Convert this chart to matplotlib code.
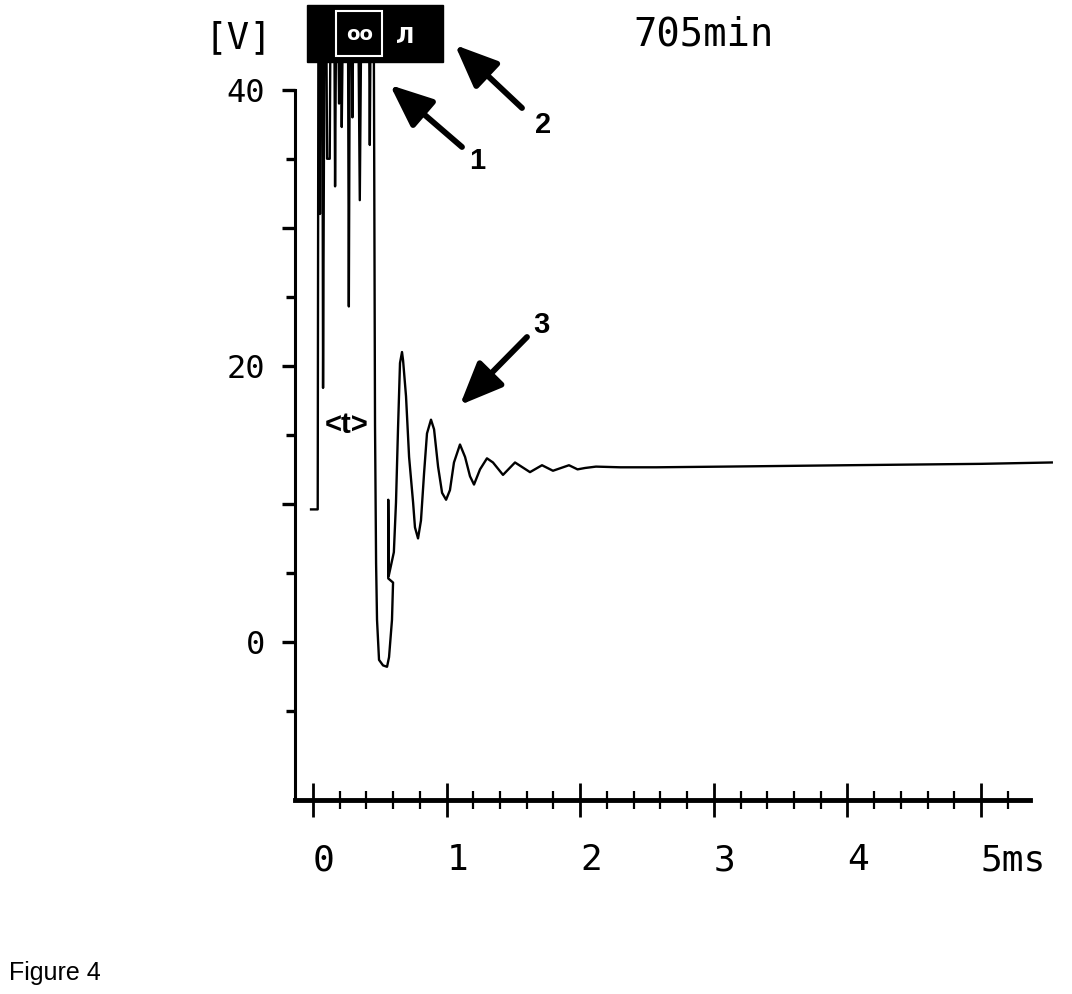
import matplotlib
matplotlib.use("Agg")
import matplotlib.pyplot as plt
from matplotlib.ticker import FixedLocator, MultipleLocator, NullFormatter
from matplotlib.patches import Rectangle

# ---------------- data ----------------
time_ms = [-0.015, 0.035, 0.040, 0.048, 0.052, 0.056, 0.070, 0.075, 0.085, 0.100,
           0.105, 0.125, 0.130, 0.160, 0.165, 0.172, 0.190, 0.195, 0.200, 0.210,
           0.215, 0.222, 0.262, 0.268, 0.275, 0.290, 0.295, 0.300, 0.340, 0.350,
           0.360, 0.420, 0.425, 0.430, 0.455, 0.464, 0.472, 0.479, 0.494, 0.524,
           0.554, 0.569, 0.591, 0.599, 0.563, 0.563, 0.567, 0.605, 0.621, 0.636,
           0.651, 0.666, 0.674, 0.696, 0.719, 0.749, 0.763, 0.786, 0.808, 0.831,
           0.853, 0.883, 0.906, 0.936, 0.966, 0.996, 1.025, 1.055, 1.100, 1.138,
           1.175, 1.205, 1.250, 1.302, 1.347, 1.422, 1.512, 1.624, 1.714, 1.796,
           1.916, 1.980, 2.036, 2.118, 2.300, 2.570, 3.080, 4.000, 4.500, 5.000,
           5.530]
voltage_v = [9.6, 9.6, 44.0, 44.0, 31.0, 44.0, 44.0, 18.4, 44.0, 44.0,
             35.0, 35.0, 44.0, 44.0, 33.0, 44.0, 44.0, 39.0, 44.0, 44.0,
             37.3, 44.0, 44.0, 24.3, 44.0, 44.0, 38.0, 44.0, 44.0, 32.0,
             44.0, 44.0, 36.0, 44.0, 44.0, 15.7, 5.7, 1.6, -1.3, -1.7,
             -1.8, -1.1, 1.6, 4.3, 4.6, 10.3, 4.8, 6.5, 10.1, 15.4,
             20.2, 21.0, 20.4, 17.8, 13.4, 10.1, 8.3, 7.5, 8.8, 12.2,
             15.1, 16.1, 15.4, 12.7, 10.8, 10.3, 11.0, 13.0, 14.3, 13.4,
             12.0, 11.4, 12.5, 13.3, 13.0, 12.1, 13.0, 12.3, 12.8, 12.4,
             12.8, 12.5, 12.6, 12.7, 12.65, 12.65, 12.7, 12.8, 12.85, 12.9,
             13.0]

x_major_ticks = [0, 1, 2, 3, 4, 5]
x_tick_labels = ["0", "1", "2", "3", "4", "5ms"]
y_major_ticks = [0, 10, 20, 30, 40]
y_tick_labels = ["0", "", "20", "", "40"]
y_minor_ticks = [-5, 5, 15, 25, 35]
y_unit = "[V]"
elapsed_label = "705min"
figure_caption = "Figure 4"
interval_label = "<t>"
arrow_numbers = ["1", "2", "3"]

# ---------------- layout ----------------
W, H = 1072, 994
fig = plt.figure(figsize=(W / 100, H / 100), dpi=100)
fig.patch.set_facecolor("white")

def fx(px):
    return px / W

def fy(py):
    return 1 - py / H

plot_font = ["DejaVu Sans Mono"]
ax_l, ax_r, ax_b, ax_t = 295, 1030, 800, 0
ax = fig.add_axes([fx(ax_l), fy(ax_b), (ax_r - ax_l) / W, (ax_b - ax_t) / H])
ax.set_xlim(-0.135, 5.367)
ax.set_ylim(-11.45, 46.5)
ax.patch.set_alpha(0)

for s in ("top", "right"):
    ax.spines[s].set_visible(False)
ax.spines["left"].set_bounds(-11.45, 40)
ax.spines["left"].set_linewidth(2.2)
ax.spines["bottom"].set_linewidth(3.5)

ax.plot(time_ms, voltage_v, color="black", lw=1.7, clip_on=False, zorder=3)

ax.xaxis.set_major_locator(FixedLocator(x_major_ticks))
ax.xaxis.set_minor_locator(MultipleLocator(0.2))
ax.set_xticklabels(x_tick_labels, family=plot_font, fontsize=26)
for lab in ax.get_xticklabels():
    lab.set_horizontalalignment("left")
ax.yaxis.set_major_locator(FixedLocator(y_major_ticks))
ax.yaxis.set_minor_locator(FixedLocator(y_minor_ticks))
ax.yaxis.set_minor_formatter(NullFormatter())
ax.set_yticklabels(y_tick_labels, family=plot_font, fontsize=23)

ax.tick_params(axis="x", which="major", direction="inout", length=24, width=2.0, pad=19)
ax.tick_params(axis="x", which="minor", direction="inout", length=13, width=1.6)
ax.tick_params(axis="y", which="major", direction="out", length=9.5, width=2.4, pad=12)
ax.tick_params(axis="y", which="minor", direction="out", length=6.5, width=2.4)

# texts
fig.text(fx(238), fy(38), y_unit, family=plot_font, fontsize=27, ha="center", va="center")
fig.text(fx(703), fy(35), elapsed_label, family=plot_font, fontsize=28, ha="center", va="center")
fig.text(fx(9), fy(973), figure_caption, family=["Liberation Sans"], fontsize=18,
         ha="left", va="center")
fig.text(fx(347), fy(425), interval_label, family=["Liberation Sans"], fontsize=21,
         fontweight="bold", ha="center", va="center", zorder=5)

# black header box with white symbols
fig.add_artist(Rectangle((fx(307), fy(62)), (443 - 307) / W, (62 - 5) / H,
                         transform=fig.transFigure, facecolor="black", edgecolor="black",
                         zorder=10))
fig.add_artist(Rectangle((fx(336), fy(56)), (382 - 336) / W, (56 - 11) / H,
                         transform=fig.transFigure, facecolor="none", edgecolor="white",
                         lw=1.5, zorder=11))
fig.text(fx(360), fy(34), "oo", color="white", family=["DejaVu Sans"], fontsize=14,
         fontweight="bold", ha="center", va="center", zorder=12)
fig.text(fx(405), fy(37), "Л", color="white", family=["DejaVu Sans"], fontsize=16,
         fontweight="bold", ha="center", va="center", zorder=12)

# arrows with numbers
arrow_specs = [((462, 147), (390, 85)), ((522, 108), (455, 45)), ((527, 337), (460, 405))]
number_pos = [(477, 161), (543, 125), (541, 325)]
for (tail, tip), num, npos in zip(arrow_specs, arrow_numbers, number_pos):
    ax.annotate("", xy=(tip[0], H - tip[1]), xycoords="figure pixels",
                xytext=(tail[0], H - tail[1]), textcoords="figure pixels",
                arrowprops=dict(arrowstyle="-|>,head_length=1.3,head_width=0.55",
                                lw=4.2, color="black", mutation_scale=20,
                                shrinkA=0, shrinkB=0), zorder=6)
    fig.text(fx(npos[0]), fy(npos[1]), num, family=["Liberation Sans"], fontsize=21,
             fontweight="bold", ha="center", va="center")

fig.savefig("out.png", dpi=100, facecolor="white")
